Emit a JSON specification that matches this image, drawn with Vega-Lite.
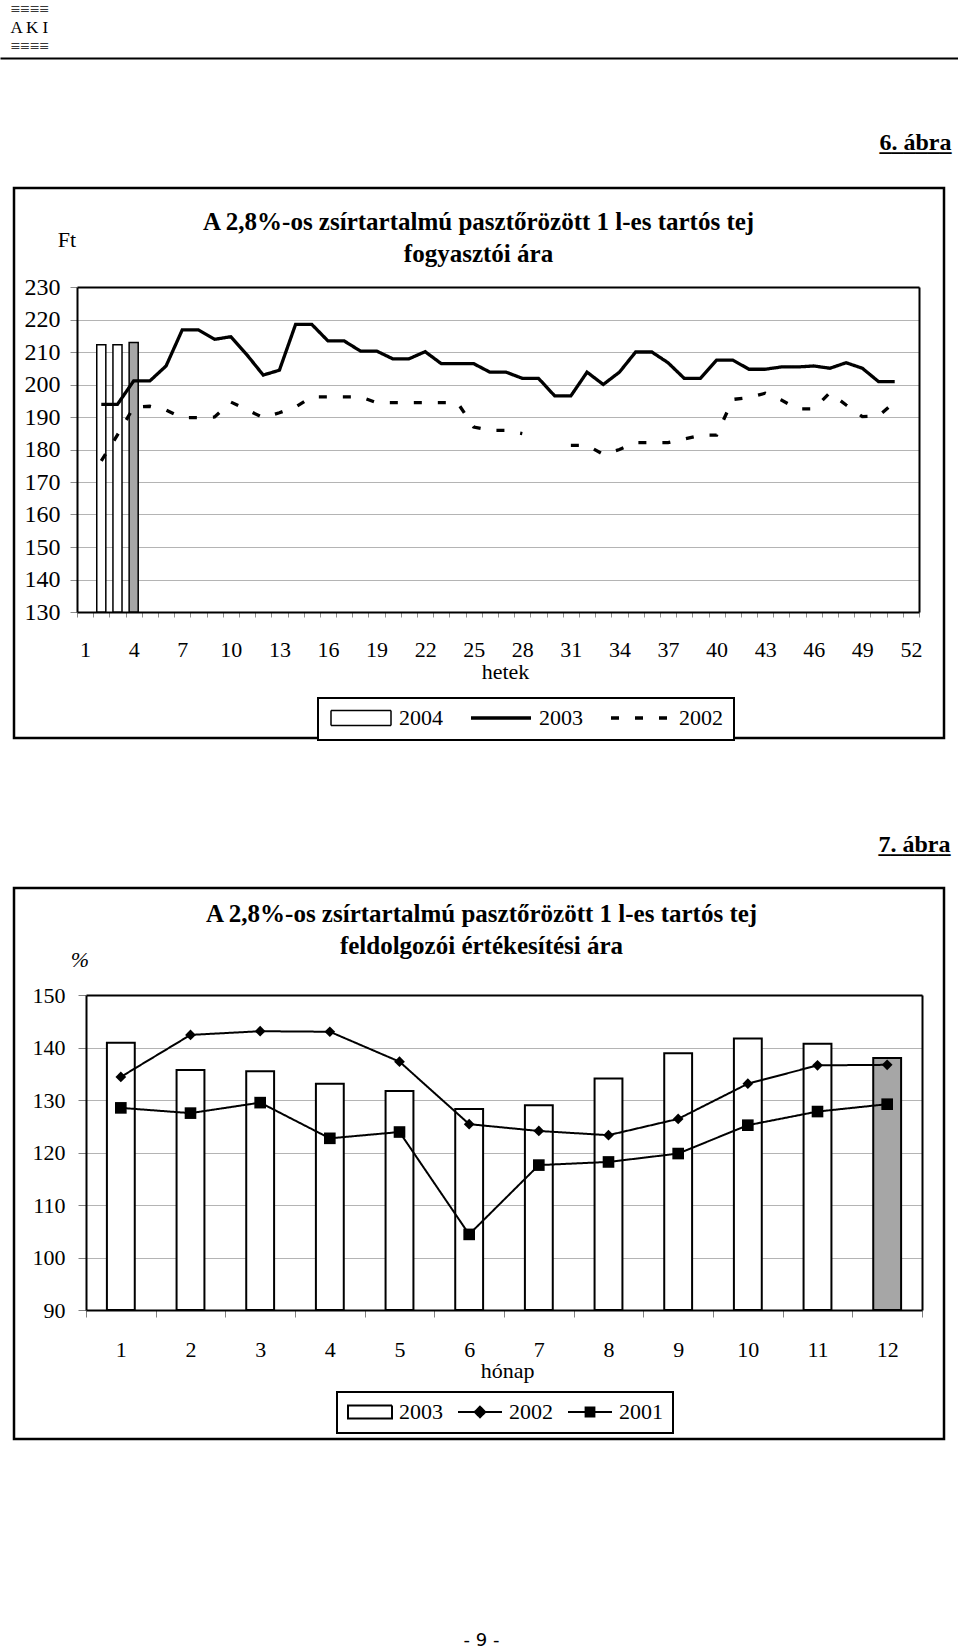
{
  "$schema": "https://vega.github.io/schema/vega-lite/v6.json",
  "padding": 0,
  "background": "white",
  "bounds": "flush",
  "center": true,
  "spacing": 150,
  "resolve": {"scale": {"strokeDash": "independent"}, "legend": {"strokeDash": "independent"}},
  "config": {"view": {"stroke": null}, "font": "Liberation Serif"},
  "datasets": {
    "c1bars": [
      {"week": 2, "price": 212.2},
      {"week": 3, "price": 212.2},
      {"week": 4, "price": 212.9}
    ],
    "c1lines": [
      {"week": 2, "series": "2003", "price": 193.9},
      {"week": 3, "series": "2003", "price": 193.9},
      {"week": 4, "series": "2003", "price": 201.1},
      {"week": 5, "series": "2003", "price": 201.1},
      {"week": 6, "series": "2003", "price": 205.7},
      {"week": 7, "series": "2003", "price": 216.8},
      {"week": 8, "series": "2003", "price": 216.8},
      {"week": 9, "series": "2003", "price": 213.9},
      {"week": 10, "series": "2003", "price": 214.7},
      {"week": 11, "series": "2003", "price": 209.1},
      {"week": 12, "series": "2003", "price": 202.9},
      {"week": 13, "series": "2003", "price": 204.4},
      {"week": 14, "series": "2003", "price": 218.5},
      {"week": 15, "series": "2003", "price": 218.5},
      {"week": 16, "series": "2003", "price": 213.4},
      {"week": 17, "series": "2003", "price": 213.4},
      {"week": 18, "series": "2003", "price": 210.3},
      {"week": 19, "series": "2003", "price": 210.3},
      {"week": 20, "series": "2003", "price": 207.9},
      {"week": 21, "series": "2003", "price": 207.9},
      {"week": 22, "series": "2003", "price": 210.1},
      {"week": 23, "series": "2003", "price": 206.4},
      {"week": 24, "series": "2003", "price": 206.4},
      {"week": 25, "series": "2003", "price": 206.4},
      {"week": 26, "series": "2003", "price": 203.8},
      {"week": 27, "series": "2003", "price": 203.8},
      {"week": 28, "series": "2003", "price": 201.9},
      {"week": 29, "series": "2003", "price": 201.9},
      {"week": 30, "series": "2003", "price": 196.5},
      {"week": 31, "series": "2003", "price": 196.5},
      {"week": 32, "series": "2003", "price": 203.8},
      {"week": 33, "series": "2003", "price": 200.0},
      {"week": 34, "series": "2003", "price": 203.8},
      {"week": 35, "series": "2003", "price": 210.0},
      {"week": 36, "series": "2003", "price": 210.0},
      {"week": 37, "series": "2003", "price": 206.7},
      {"week": 38, "series": "2003", "price": 201.9},
      {"week": 39, "series": "2003", "price": 201.9},
      {"week": 40, "series": "2003", "price": 207.5},
      {"week": 41, "series": "2003", "price": 207.5},
      {"week": 42, "series": "2003", "price": 204.7},
      {"week": 43, "series": "2003", "price": 204.7},
      {"week": 44, "series": "2003", "price": 205.4},
      {"week": 45, "series": "2003", "price": 205.4},
      {"week": 46, "series": "2003", "price": 205.7},
      {"week": 47, "series": "2003", "price": 205.0},
      {"week": 48, "series": "2003", "price": 206.7},
      {"week": 49, "series": "2003", "price": 205.0},
      {"week": 50, "series": "2003", "price": 200.9},
      {"week": 51, "series": "2003", "price": 200.9},
      {"week": 2, "series": "2002", "price": 176.5},
      {"week": 3, "series": "2002", "price": 184.5},
      {"week": 4, "series": "2002", "price": 193.0},
      {"week": 5, "series": "2002", "price": 193.3},
      {"week": 6, "series": "2002", "price": 192.1},
      {"week": 7, "series": "2002", "price": 189.8},
      {"week": 8, "series": "2002", "price": 189.8},
      {"week": 9, "series": "2002", "price": 190.0},
      {"week": 10, "series": "2002", "price": 194.6},
      {"week": 11, "series": "2002", "price": 192.2},
      {"week": 12, "series": "2002", "price": 189.8},
      {"week": 13, "series": "2002", "price": 191.3},
      {"week": 14, "series": "2002", "price": 193.1},
      {"week": 15, "series": "2002", "price": 196.2},
      {"week": 16, "series": "2002", "price": 196.2},
      {"week": 17, "series": "2002", "price": 196.2},
      {"week": 18, "series": "2002", "price": 196.2},
      {"week": 19, "series": "2002", "price": 194.4},
      {"week": 20, "series": "2002", "price": 194.4},
      {"week": 21, "series": "2002", "price": 194.4},
      {"week": 22, "series": "2002", "price": 194.4},
      {"week": 23, "series": "2002", "price": 194.4},
      {"week": 24, "series": "2002", "price": 194.4},
      {"week": 25, "series": "2002", "price": 186.9},
      {"week": 26, "series": "2002", "price": 185.9},
      {"week": 27, "series": "2002", "price": 185.9},
      {"week": 28, "series": "2002", "price": 184.9},
      {"week": 29, "series": "2002", "price": null},
      {"week": 30, "series": "2002", "price": null},
      {"week": 31, "series": "2002", "price": 181.3},
      {"week": 32, "series": "2002", "price": 181.3},
      {"week": 33, "series": "2002", "price": 178.5},
      {"week": 34, "series": "2002", "price": 180.0},
      {"week": 35, "series": "2002", "price": 182.1},
      {"week": 36, "series": "2002", "price": 182.1},
      {"week": 37, "series": "2002", "price": 182.1},
      {"week": 38, "series": "2002", "price": 183.2},
      {"week": 39, "series": "2002", "price": 184.4},
      {"week": 40, "series": "2002", "price": 184.4},
      {"week": 41, "series": "2002", "price": 195.4},
      {"week": 42, "series": "2002", "price": 196.0},
      {"week": 43, "series": "2002", "price": 197.3},
      {"week": 44, "series": "2002", "price": 195.2},
      {"week": 45, "series": "2002", "price": 192.5},
      {"week": 46, "series": "2002", "price": 192.5},
      {"week": 47, "series": "2002", "price": 197.5},
      {"week": 48, "series": "2002", "price": 193.7},
      {"week": 49, "series": "2002", "price": 190.1},
      {"week": 50, "series": "2002", "price": 190.3},
      {"week": 51, "series": "2002", "price": 194.6}
    ],
    "c2bars": [
      {"month": 1, "pct": 140.9},
      {"month": 2, "pct": 135.7},
      {"month": 3, "pct": 135.5},
      {"month": 4, "pct": 133.1},
      {"month": 5, "pct": 131.7},
      {"month": 6, "pct": 128.3},
      {"month": 7, "pct": 129.0},
      {"month": 8, "pct": 134.1},
      {"month": 9, "pct": 138.9},
      {"month": 10, "pct": 141.7},
      {"month": 11, "pct": 140.7},
      {"month": 12, "pct": 138.0}
    ],
    "c2lines": [
      {"month": 1, "series": "2002", "pct": 134.4},
      {"month": 2, "series": "2002", "pct": 142.4},
      {"month": 3, "series": "2002", "pct": 143.1},
      {"month": 4, "series": "2002", "pct": 143.0},
      {"month": 5, "series": "2002", "pct": 137.3},
      {"month": 6, "series": "2002", "pct": 125.4},
      {"month": 7, "series": "2002", "pct": 124.1},
      {"month": 8, "series": "2002", "pct": 123.3},
      {"month": 9, "series": "2002", "pct": 126.4},
      {"month": 10, "series": "2002", "pct": 133.1},
      {"month": 11, "series": "2002", "pct": 136.6},
      {"month": 12, "series": "2002", "pct": 136.7},
      {"month": 1, "series": "2001", "pct": 128.5},
      {"month": 2, "series": "2001", "pct": 127.5},
      {"month": 3, "series": "2001", "pct": 129.5},
      {"month": 4, "series": "2001", "pct": 122.7},
      {"month": 5, "series": "2001", "pct": 123.9},
      {"month": 6, "series": "2001", "pct": 104.4},
      {"month": 7, "series": "2001", "pct": 117.6},
      {"month": 8, "series": "2001", "pct": 118.2},
      {"month": 9, "series": "2001", "pct": 119.8},
      {"month": 10, "series": "2001", "pct": 125.2},
      {"month": 11, "series": "2001", "pct": 127.8},
      {"month": 12, "series": "2001", "pct": 129.2}
    ]
  },
  "vconcat": [
    {
      "width": 958,
      "height": 37,
      "data": {"values": [{"k": 0}]},
      "mark": {"type": "text", "text": " "},
      "encoding": {
        "x": {"datum": 0, "type": "quantitative", "scale": {"domain": [0, 1]},
          "axis": {"orient": "bottom", "offset": 20, "domain": true, "domainColor": "black", "domainWidth": 2, "ticks": false, "labels": false, "grid": false,
            "title": ["6. ábra", "______"], "titleX": 951, "titleY": 91, "titleAlign": "right", "titleBaseline": "alphabetic", "titleLineHeight": 1, "titleFont": "Liberation Serif", "titleFontSize": 24, "titleFontWeight": "bold", "titleColor": "black", "minExtent": 0}},
        "y": {"datum": 0, "type": "quantitative", "scale": {"domain": [0, 1]},
          "axis": {"orient": "left", "domain": false, "ticks": false, "labels": false, "grid": false, "minExtent": 0,
            "title": ["≡≡≡≡", "A K I", "≡≡≡≡"], "titleX": 10, "titleY": 0, "titleAngle": 0, "titleAlign": "left", "titleBaseline": "top", "titleFont": "Liberation Serif", "titleFontSize": 17, "titleFontWeight": "normal", "titleLineHeight": 18.5, "titleColor": "black"}}
      }
    },
    {
      "width": 930,
      "height": 550,
      "view": {"stroke": "black", "strokeWidth": 2.5, "fill": "white"},
      "resolve": {"axis": {"x": "independent", "y": "independent"}},
      "layer": [
        {
          "data": {"name": "c1bars"},
          "mark": {"type": "bar", "width": {"band": 0.56}, "stroke": "black", "strokeWidth": 1.5},
          "encoding": {
            "x": {"field": "week", "type": "ordinal",
              "scale": {"type": "band", "domain": [1,2,3,4,5,6,7,8,9,10,11,12,13,14,15,16,17,18,19,20,21,22,23,24,25,26,27,28,29,30,31,32,33,34,35,36,37,38,39,40,41,42,43,44,45,46,47,48,49,50,51,52], "range": [63, 905], "paddingInner": 0, "paddingOuter": 0},
              "axis": {"orient": "bottom", "offset": -126, "domain": true, "domainColor": "black", "domainWidth": 2, "ticks": true, "tickBand": "extent", "tickSize": 5, "tickColor": "#8c8c8c", "tickWidth": 1,
                "labelAngle": 0, "labelFont": "Liberation Serif", "labelFontSize": 22, "labelColor": "black", "labelBaseline": "alphabetic", "labelPadding": 39, "labelOverlap": false,
                "labelExpr": "(datum.value - 1) % 3 === 0 ? datum.label : ''", "grid": false, "minExtent": 0,
                "title": "hetek", "titleX": 491, "titleY": 66, "titleAlign": "center", "titleBaseline": "alphabetic", "titleFont": "Liberation Serif", "titleFontSize": 22, "titleFontWeight": "normal", "titleColor": "black"}},
            "y": {"field": "price", "type": "quantitative",
              "scale": {"domain": [130, 230], "range": [424, 99], "nice": false, "zero": false},
              "axis": {"orient": "left", "offset": -63, "values": [130,140,150,160,170,180,190,200,210,220,230], "domain": true, "domainColor": "black", "domainWidth": 2, "ticks": true, "tickSize": 7, "tickColor": "#8c8c8c", "tickWidth": 1,
                "labelFont": "Liberation Serif", "labelFontSize": 24, "labelColor": "black", "labelPadding": 10, "grid": true, "gridColor": "#b4b4b4", "gridWidth": 1, "minExtent": 0,
                "title": "Ft", "titleAngle": 0, "titleX": -10.5, "titleY": 58, "titleAlign": "center", "titleBaseline": "alphabetic", "titleFont": "Liberation Serif", "titleFontSize": 22, "titleFontWeight": "normal", "titleColor": "black"}},
            "y2": {"datum": 130},
            "fill": {"condition": {"test": "datum.week === 4", "value": "#a6a6a6"}, "value": "white"}
          }
        },
        {
          "data": {"name": "c1lines"},
          "mark": {"type": "line", "color": "black", "strokeWidth": 3.3, "invalid": "break-paths-show-domains"},
          "encoding": {
            "x": {"field": "week", "type": "ordinal", "bandPosition": 0.5,
              "scale": {"type": "band", "domain": [1,2,3,4,5,6,7,8,9,10,11,12,13,14,15,16,17,18,19,20,21,22,23,24,25,26,27,28,29,30,31,32,33,34,35,36,37,38,39,40,41,42,43,44,45,46,47,48,49,50,51,52], "range": [63, 905], "paddingInner": 0, "paddingOuter": 0},
              "axis": {"orient": "top", "offset": -99, "domain": true, "domainColor": "black", "domainWidth": 2, "ticks": false, "labels": false, "grid": false, "minExtent": 0,
                "title": ["A 2,8%-os zsírtartalmú pasztőrözött 1 l-es tartós tej", "fogyasztói ára"], "titleX": 464, "titleY": -58, "titleAlign": "center", "titleBaseline": "alphabetic", "titleLineHeight": 32, "titleLimit": 1000,
                "titleFont": "Liberation Serif", "titleFontSize": 25, "titleFontWeight": "bold", "titleColor": "black"}},
            "y": {"field": "price", "type": "quantitative",
              "scale": {"domain": [130, 230], "range": [424, 99], "nice": false, "zero": false},
              "axis": {"orient": "right", "offset": -25, "domain": true, "domainColor": "black", "domainWidth": 2, "ticks": false, "labels": false, "grid": false, "minExtent": 0,
                "title": ["7. ábra", "______"], "titleAngle": 0, "titleX": 31, "titleY": 663, "titleAlign": "right", "titleBaseline": "alphabetic", "titleLineHeight": 1, "titleFont": "Liberation Serif", "titleFontSize": 24, "titleFontWeight": "bold", "titleColor": "black"}},
            "strokeDash": {"field": "series", "type": "nominal",
              "scale": {"domain": ["2004", "2003", "2002"], "range": [[1, 0], [1, 0], [8, 16]]},
              "legend": {"orient": "none", "legendX": 304, "legendY": 510, "direction": "horizontal", "title": null,
                "strokeColor": "black", "fillColor": "white", "padding": 11,
                "symbolSize": 3600, "symbolStrokeWidth": 3.3, "symbolStrokeColor": "black",
                "labelFont": "Liberation Serif", "labelFontSize": 22, "labelColor": "black", "labelOffset": 6, "columnPadding": 26, "clipHeight": 18,
                "encode": {
                  "symbols": {"update": {
                    "shape": {"signal": "(datum.value === '2004' ? 'M-1,-0.25H1V0.25H-1Z' : 'M-1,0H1')"},
                    "size": {"value": 3600},
                    "fill": {"signal": "(datum.value === '2004' ? 'white' : 'transparent')"},
                    "stroke": {"value": "black"},
                    "strokeWidth": {"signal": "(datum.value === '2004' ? 1.5 : 3.3)"}
                  }},
                  "legend": {"update": {"strokeWidth": {"value": 2}}}
                }}}
          }
        }
      ]
    },
    {
      "width": 930,
      "height": 551,
      "view": {"stroke": "black", "strokeWidth": 2.5, "fill": "white"},
      "resolve": {"axis": {"x": "independent", "y": "independent"}},
      "layer": [
        {
          "data": {"name": "c2bars"},
          "mark": {"type": "bar", "width": {"band": 0.4}, "stroke": "black", "strokeWidth": 2},
          "encoding": {
            "x": {"field": "month", "type": "ordinal",
              "scale": {"type": "band", "domain": [1,2,3,4,5,6,7,8,9,10,11,12], "range": [72, 908], "paddingInner": 0, "paddingOuter": 0},
              "axis": {"orient": "bottom", "offset": -129, "domain": true, "domainColor": "black", "domainWidth": 2, "ticks": true, "tickBand": "extent", "tickSize": 7, "tickColor": "#808080", "tickWidth": 1,
                "labelAngle": 0, "labelFont": "Liberation Serif", "labelFontSize": 22, "labelColor": "black", "labelBaseline": "alphabetic", "labelPadding": 39, "labelOverlap": false, "grid": false, "minExtent": 0,
                "title": "hónap", "titleX": 493, "titleY": 67, "titleAlign": "center", "titleBaseline": "alphabetic", "titleFont": "Liberation Serif", "titleFontSize": 22, "titleFontWeight": "normal", "titleColor": "black"}},
            "y": {"field": "pct", "type": "quantitative",
              "scale": {"domain": [90, 150], "range": [422, 107], "nice": false, "zero": false},
              "axis": {"orient": "left", "offset": -72, "values": [90,100,110,120,130,140,150], "domain": true, "domainColor": "black", "domainWidth": 2, "ticks": true, "tickSize": 8, "tickColor": "#808080", "tickWidth": 1,
                "labelFont": "Liberation Serif", "labelFontSize": 22, "labelColor": "black", "labelPadding": 13, "grid": true, "gridColor": "#b4b4b4", "gridWidth": 1, "minExtent": 0,
                "title": "%", "titleAngle": 0, "titleX": -6.5, "titleY": 78, "titleAlign": "center", "titleBaseline": "alphabetic", "titleFont": "Liberation Serif", "titleFontSize": 22, "titleFontStyle": "italic", "titleFontWeight": "normal", "titleColor": "black"}},
            "y2": {"datum": 90},
            "fill": {"condition": {"test": "datum.month === 12", "value": "#a6a6a6"}, "value": "white"}
          }
        },
        {
          "data": {"name": "c2lines"},
          "mark": {"type": "line", "color": "black", "strokeWidth": 2},
          "encoding": {
            "x": {"field": "month", "type": "ordinal", "bandPosition": 0.5,
              "scale": {"type": "band", "domain": [1,2,3,4,5,6,7,8,9,10,11,12], "range": [72, 908], "paddingInner": 0, "paddingOuter": 0},
              "axis": {"orient": "top", "offset": -107, "domain": true, "domainColor": "black", "domainWidth": 2, "ticks": false, "labels": false, "grid": false, "minExtent": 0,
                "title": ["A 2,8%-os zsírtartalmú pasztőrözött 1 l-es tartós tej", "feldolgozói értékesítési ára"], "titleX": 467, "titleY": -74, "titleAlign": "center", "titleBaseline": "alphabetic", "titleLineHeight": 32, "titleLimit": 1000,
                "titleFont": "Liberation Serif", "titleFontSize": 25, "titleFontWeight": "bold", "titleColor": "black"}},
            "y": {"field": "pct", "type": "quantitative",
              "scale": {"domain": [90, 150], "range": [422, 107], "nice": false, "zero": false},
              "axis": {"orient": "right", "offset": -22, "domain": true, "domainColor": "black", "domainWidth": 2, "ticks": false, "labels": false, "grid": false, "minExtent": 0,
                "title": "- 9 -", "titleAngle": 0, "titleX": -441, "titleY": 757, "titleAlign": "center", "titleBaseline": "alphabetic", "titleFont": "DejaVu Sans", "titleFontSize": 18, "titleFontWeight": "normal", "titleColor": "black"}},
            "strokeDash": {"field": "series", "type": "nominal",
              "scale": {"domain": ["2003", "2002", "2001"], "range": [[1, 0], [1, 0], [1, 0]]},
              "legend": {"orient": "none", "legendX": 323, "legendY": 504, "direction": "horizontal", "title": null,
                "strokeColor": "black", "fillColor": "white", "padding": 10,
                "symbolSize": 1936, "symbolStrokeWidth": 2, "symbolStrokeColor": "black",
                "labelFont": "Liberation Serif", "labelFontSize": 22, "labelColor": "black", "labelOffset": 6, "columnPadding": 14, "clipHeight": 20,
                "encode": {
                  "symbols": {"update": {
                    "shape": {"signal": "(datum.value === '2003' ? 'M-1,-0.3H1V0.3H-1Z' : datum.value === '2002' ? 'M-1,0H1M-0.24,0L0,-0.24L0.24,0L0,0.24Z' : 'M-1,0H1M-0.2,-0.2H0.2V0.2H-0.2Z')"},
                    "size": {"value": 1936},
                    "fill": {"signal": "(datum.value === '2003' ? 'white' : 'black')"},
                    "stroke": {"value": "black"},
                    "strokeWidth": {"value": 2}
                  }},
                  "legend": {"update": {"strokeWidth": {"value": 2}}}
                }}}
          }
        },
        {
          "data": {"name": "c2lines"},
          "mark": {"type": "point", "filled": true, "color": "black", "opacity": 1},
          "encoding": {
            "x": {"field": "month", "type": "ordinal", "bandPosition": 0.5,
              "scale": {"type": "band", "domain": [1,2,3,4,5,6,7,8,9,10,11,12], "range": [72, 908], "paddingInner": 0, "paddingOuter": 0},
              "axis": null},
            "y": {"field": "pct", "type": "quantitative",
              "scale": {"domain": [90, 150], "range": [422, 107], "nice": false, "zero": false},
              "axis": null},
            "shape": {"field": "series", "type": "nominal", "scale": {"domain": ["2002", "2001"], "range": ["diamond", "square"]}, "legend": null},
            "size": {"field": "series", "type": "nominal", "scale": {"domain": ["2002", "2001"], "range": [115, 135]}, "legend": null}
          }
        }
      ]
    }
  ]
}
